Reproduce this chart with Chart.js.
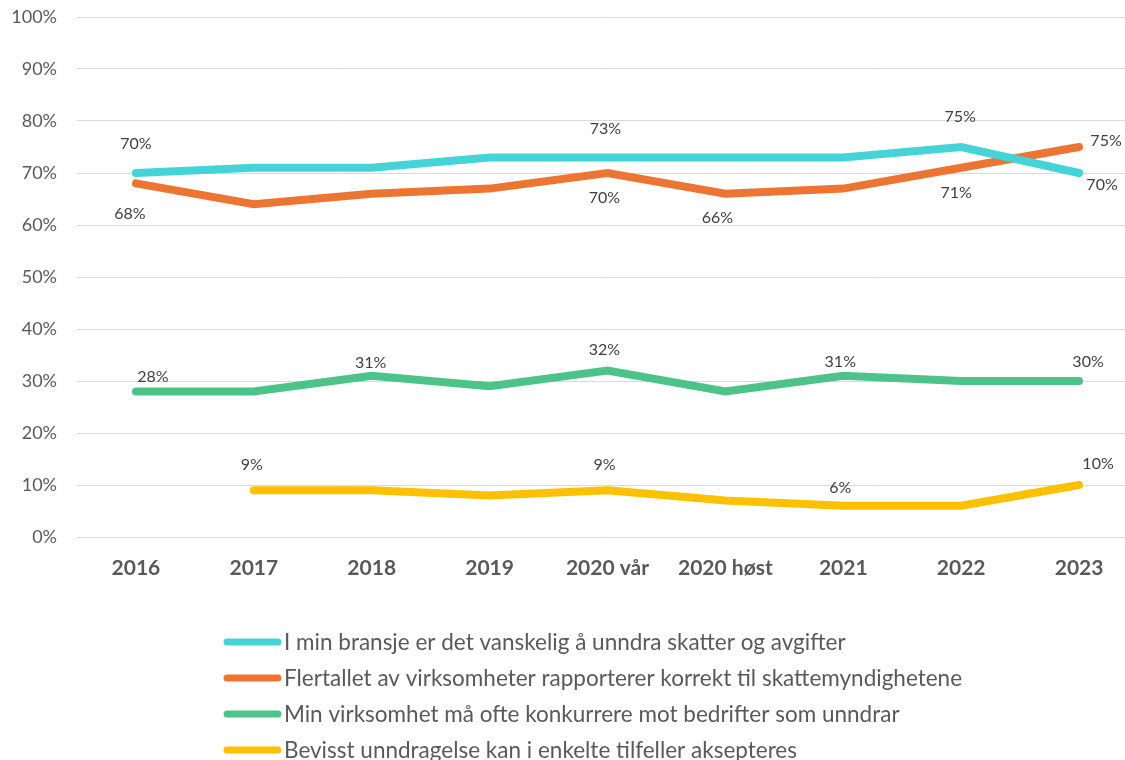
<!DOCTYPE html>
<html>
<head>
<meta charset="utf-8">
<script src="https://cdn.jsdelivr.net/npm/chart.js@4/dist/chart.umd.min.js"></script>
<style>
  html, body { margin: 0; padding: 0; background: #fff; overflow: hidden; }
  #wrap { width: 1140px; height: 775px; }
</style>
</head>
<body>
<div id="wrap"><canvas id="grafico"></canvas></div>
<script>
// kategorier og verdier lest av figuren
const kategorier = ["2016", "2017", "2018", "2019", "2020 vår", "2020 høst", "2021", "2022", "2023"];
const vanskelig  = [70, 71, 71, 73, 73, 73, 73, 75, 70];
const korrekt    = [68, 64, 66, 67, 70, 66, 67, 71, 75];
const konkurrere = [28, 28, 31, 29, 32, 28, 31, 30, 30];
const akseptere  = [null, 9, 9, 8, 9, 7, 6, 6, 10];
const yTicks     = [0, 10, 20, 30, 40, 50, 60, 70, 80, 90, 100];

const serieNavn = [
  "I min bransje er det vanskelig å unndra skatter og avgifter",
  "Flertallet av virksomheter rapporterer korrekt til skattemyndighetene",
  "Min virksomhet må ofte konkurrere mot bedrifter som unndrar",
  "Bevisst unndragelse kan i enkelte tilfeller aksepteres"
];
const farger = ["#44D4D7", "#ED7533", "#4DC38A", "#FFC000"];

// hvilke punkter som har etikett, og forskyvning (indeks, dx, dy)
const etiketter = [
  [[0, 0, -29], [4, -2, -29], [7, -1, -30], [8, 23, 12]],
  [[0, -6, 30], [4, -3, 25], [5, -8, 24], [7, -5, 25], [8, 27, -6]],
  [[0, 17, -15], [2, -1, -13], [4, -3, -21], [6, -3, -14], [8, 9, -19]],
  [[1, -2, -25], [4, -3, -25], [6, -3, -18], [8, 19, -21]]
];

const FONT = "Lato, 'Open Sans', sans-serif";

const etikettPlugin = {
  id: "etiketter",
  afterDatasetsDraw(chart) {
    const ctx = chart.ctx;
    ctx.save();
    ctx.font = `16px ${FONT}`;
    ctx.fillStyle = "#404040";
    ctx.textAlign = "center";
    ctx.textBaseline = "middle";
    etiketter.forEach((liste, di) => {
      const meta = chart.getDatasetMeta(di);
      const data = chart.data.datasets[di].data;
      liste.forEach(([i, dx, dy]) => {
        const p = meta.data[i];
        ctx.fillText(data[i] + "%", p.x + dx, p.y + dy);
      });
    });
    ctx.restore();
  }
};

const legendePlugin = {
  id: "legende",
  afterDraw(chart) {
    const ctx = chart.ctx;
    const y0 = chart.chartArea.bottom + 105;
    ctx.save();
    ctx.font = `22.5px ${FONT}`;
    ctx.textBaseline = "middle";
    chart.data.datasets.forEach((ds, i) => {
      const y = y0 + i * 36;
      ctx.strokeStyle = ds.borderColor;
      ctx.lineWidth = 7;
      ctx.lineCap = "round";
      ctx.beginPath();
      ctx.moveTo(227, y);
      ctx.lineTo(278, y);
      ctx.stroke();
      ctx.fillStyle = "#595959";
      ctx.fillText(ds.label, 284, y + 1);
    });
    ctx.restore();
  }
};

const datasett = [vanskelig, korrekt, konkurrere, akseptere].map((d, i) => ({
  label: serieNavn[i],
  data: d,
  borderColor: farger[i],
  backgroundColor: farger[i],
  borderWidth: 8,
  borderCapStyle: "round",
  borderJoinStyle: "miter",
  pointRadius: 0,
  tension: 0
}));

new Chart(document.getElementById("grafico"), {
  type: "line",
  data: { labels: kategorier, datasets: datasett },
  options: {
    responsive: true,
    maintainAspectRatio: false,
    animation: false,
    layout: { padding: { top: 17, left: 0, right: 2, bottom: 178 } },
    plugins: { legend: { display: false }, tooltip: { enabled: false } },
    scales: {
      x: {
        offset: true,
        grid: { display: false },
        border: { display: false },
        ticks: { color: "#595959", font: { family: FONT, size: 21, weight: "bold" }, padding: 11, maxRotation: 0 },
        afterFit(scale) { scale.height = 60; }
      },
      y: {
        min: 0, max: 100,
        afterBuildTicks(scale) { scale.ticks = yTicks.map(v => ({ value: v })); },
        grid: { color: "#d9d9d9", lineWidth: 1, drawTicks: false },
        border: { display: false },
        ticks: { color: "#595959", font: { family: FONT, size: 18 }, padding: 20, callback: v => v + "%" },
        afterFit(scale) { scale.width = 77; scale.paddingTop = 0; scale.paddingBottom = 0; }
      }
    }
  },
  plugins: [etikettPlugin, legendePlugin]
});
</script>
</body>
</html>
